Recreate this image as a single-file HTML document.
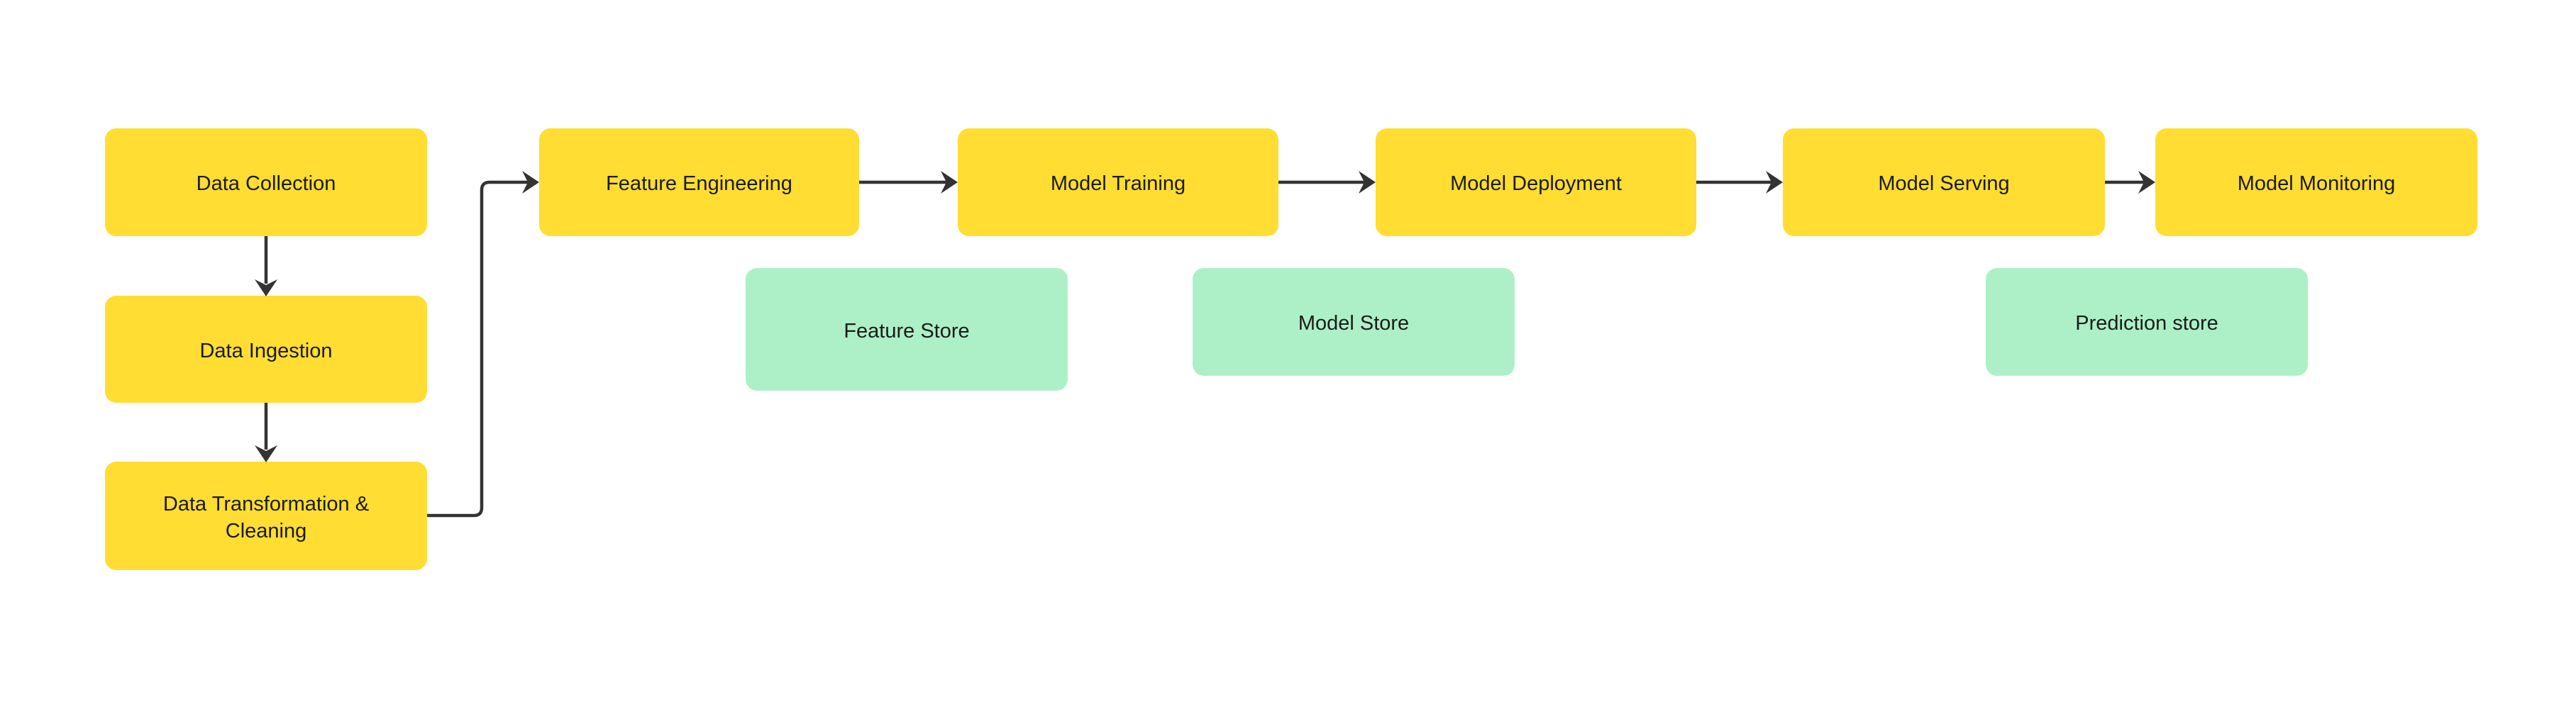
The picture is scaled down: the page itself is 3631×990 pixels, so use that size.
<!DOCTYPE html>
<html><head><meta charset="utf-8"><style>
html,body{margin:0;padding:0;background:#fff;}
body{width:3631px;height:990px;position:relative;overflow:hidden;font-family:"Liberation Sans",sans-serif;}
.b{position:absolute;border-radius:16px;display:flex;align-items:center;justify-content:center;text-align:center;font-size:29px;color:#1b1b1b;line-height:1.3;box-sizing:border-box;padding-top:6px;}
.y{background:#FFDD33;}
.g{background:#ADF0C7;}
svg{position:absolute;left:0;top:0;}
</style></head><body>
<div class="b y" style="left:148px;top:181px;width:454px;height:152px">Data Collection</div>
<div class="b y" style="left:148px;top:417px;width:454px;height:151px">Data Ingestion</div>
<div class="b y" style="left:148px;top:651px;width:454px;height:153px">Data Transformation &amp;<br>Cleaning</div>
<div class="b y" style="left:760px;top:181px;width:451px;height:152px">Feature Engineering</div>
<div class="b y" style="left:1350px;top:181px;width:452px;height:152px">Model Training</div>
<div class="b y" style="left:1939px;top:181px;width:452px;height:152px">Model Deployment</div>
<div class="b y" style="left:2513px;top:181px;width:454px;height:152px">Model Serving</div>
<div class="b y" style="left:3038px;top:181px;width:454px;height:152px">Model Monitoring</div>
<div class="b g" style="left:1051px;top:378px;width:454px;height:173px">Feature Store</div>
<div class="b g" style="left:1681px;top:378px;width:454px;height:152px">Model Store</div>
<div class="b g" style="left:2799px;top:378px;width:454px;height:152px">Prediction store</div>
<svg width="3631" height="990">
<g stroke="#333" stroke-width="4.5" fill="none">
<path d="M375,333 V400"/>
<path d="M375,568 V634"/>
<path d="M602,727 H668 Q679,727 679,716 V268 Q679,257 690,257 H744"/>
<path d="M1211,257 H1334"/>
<path d="M1802,257 H1923"/>
<path d="M2391,257 H2497"/>
<path d="M2967,257 H3022"/>
</g>
<g fill="#333">
<path d="M359,394 L375,418 L391,394 L375,402 Z"/>
<path d="M359,628 L375,652 L391,628 L375,636 Z"/>
<path d="M736,241 L760,257 L736,273 L744,257 Z"/>
<path d="M1326,241 L1350,257 L1326,273 L1334,257 Z"/>
<path d="M1915,241 L1939,257 L1915,273 L1923,257 Z"/>
<path d="M2489,241 L2513,257 L2489,273 L2497,257 Z"/>
<path d="M3014,241 L3038,257 L3014,273 L3022,257 Z"/>
</g>
</svg>
</body></html>
